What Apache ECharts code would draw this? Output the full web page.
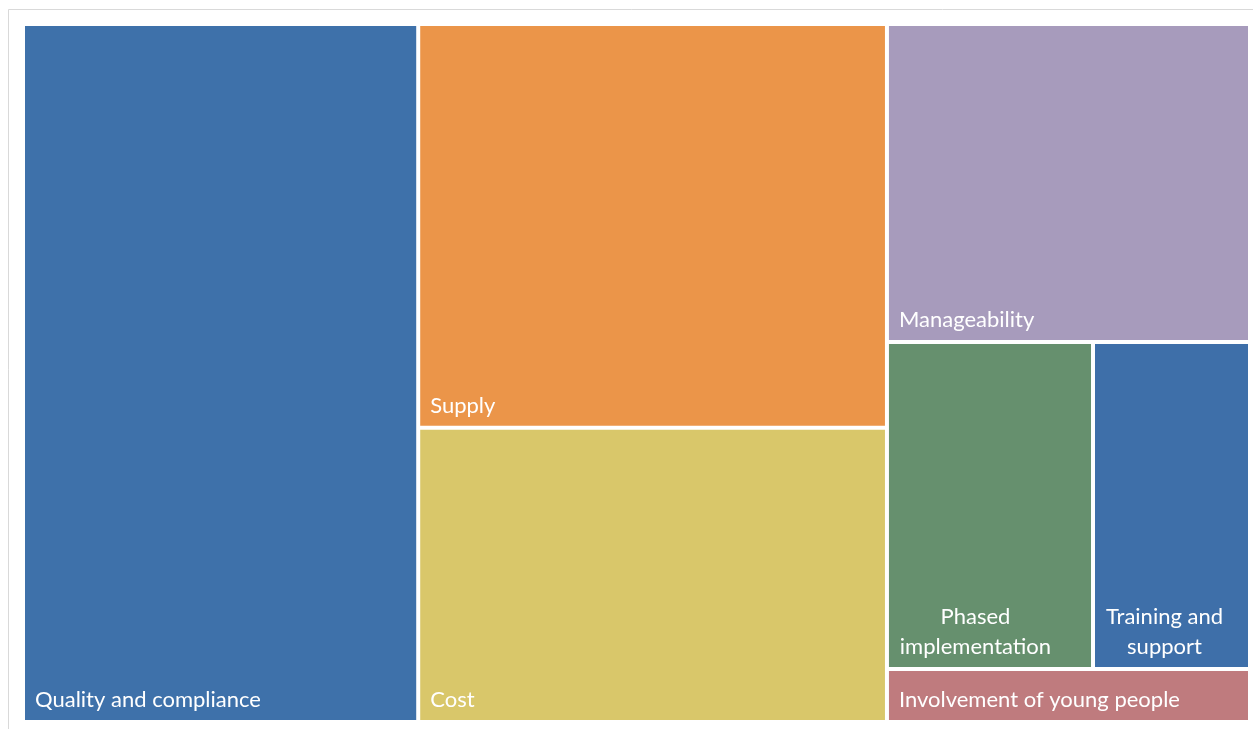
<!DOCTYPE html>
<html>
<head>
<meta charset="utf-8">
<script src="https://cdn.jsdelivr.net/npm/echarts@6/dist/echarts.min.js"></script>
<style>
  html, body { margin: 0; padding: 0; background: #ffffff; }
  #chart { width: 1253px; height: 729px; }
</style>
</head>
<body>
<div id="chart"></div>
<script>
// ---- data ----
const categories = [
  'Quality and compliance',
  'Supply',
  'Cost',
  'Manageability',
  'Phased implementation',
  'Training and support',
  'Involvement of young people'
];
const values = [86, 59, 43, 36, 21, 16, 6];
const labelTexts = [
  'Quality and compliance',
  'Supply',
  'Cost',
  'Manageability',
  'Phased\nimplementation',
  'Training and\nsupport',
  'Involvement of young people'
];

// ---- styles ----
const colors = ['#3E71AA', '#EB9549', '#D9C76A', '#A79BBC', '#66906E', '#3E6FA9', '#BF7B7E'];
const centeredLabelX = { 4: 86.5, 5: 69.5 };

const data = categories.map(function (name, i) {
  const item = {
    name: name,
    value: values[i],
    itemStyle: { color: colors[i] },
    label: { formatter: labelTexts[i] }
  };
  if (centeredLabelX[i] !== undefined) {
    item.label.position = [centeredLabelX[i], '100%'];
    item.label.align = 'center';
    item.label.verticalAlign = 'bottom';
    item.label.padding = [0, 0, 5, 0];
  }
  return item;
});

const chart = echarts.init(document.getElementById('chart'), null, { renderer: 'canvas' });
chart.setOption({
  backgroundColor: '#ffffff',
  animation: false,
  graphic: [{
    type: 'rect',
    silent: true,
    z: -10,
    shape: { x: 8.5, y: 9.5, width: 1300, height: 800 },
    style: { fill: 'none', stroke: '#d9d9d9', lineWidth: 1 }
  }],
  series: [{
    type: 'treemap',
    left: 25,
    top: 26,
    width: 1223,
    height: 694,
    squareRatio: 1.09,
    roam: false,
    nodeClick: false,
    breadcrumb: { show: false },
    label: {
      show: true,
      position: 'insideBottomLeft',
      color: '#ffffff',
      fontFamily: 'Lato',
      fontSize: 22,
      lineHeight: 30,
      padding: [0, 0, 5, 10]
    },
    levels: [
      { itemStyle: { gapWidth: 4, borderWidth: 0 } },
      { itemStyle: { borderWidth: 0, gapWidth: 0 } }
    ],
    data: data
  }]
});
</script>
</body>
</html>
